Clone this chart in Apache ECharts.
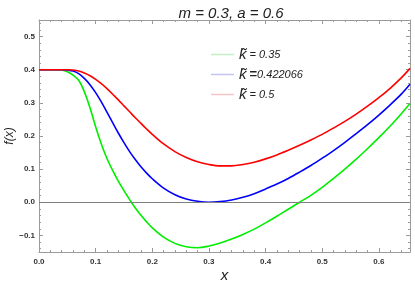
<!DOCTYPE html>
<html><head><meta charset="utf-8">
<script src="https://cdn.jsdelivr.net/npm/echarts@6/dist/echarts.min.js"></script>
<style>html,body{margin:0;padding:0;background:#fff}#c{width:415px;height:284px}</style>
</head><body><div id="c"></div>
<script>
var xs =    [0.00,0.01,0.02,0.03,0.04,0.05,0.06,0.07,0.08,0.09,0.10,0.11,0.12,0.13,0.14,0.15,0.16,0.17,0.18,0.19,0.20,0.22,0.24,0.26,0.28,0.30,0.32,0.34,0.36,0.38,0.40,0.42,0.44,0.46,0.48,0.50,0.52,0.54,0.56,0.58,0.60,0.62,0.64,0.655];
var green = [0.400,0.400,0.400,0.400,0.399,0.394,0.384,0.368,0.334,0.285,0.228,0.176,0.132,0.096,0.064,0.035,0.008,-0.017,-0.039,-0.059,-0.077,-0.105,-0.124,-0.134,-0.137,-0.132,-0.123,-0.111,-0.097,-0.081,-0.062,-0.042,-0.021,0.000,0.021,0.045,0.072,0.100,0.130,0.162,0.195,0.230,0.268,0.298];
var blue =  [0.400,0.400,0.400,0.400,0.400,0.399,0.396,0.388,0.374,0.355,0.331,0.303,0.272,0.240,0.209,0.180,0.153,0.129,0.107,0.088,0.071,0.043,0.023,0.010,0.003,0.000,0.002,0.007,0.015,0.026,0.040,0.055,0.072,0.091,0.111,0.133,0.156,0.181,0.207,0.234,0.263,0.294,0.327,0.356];
var red =   [0.400,0.400,0.400,0.400,0.400,0.400,0.399,0.396,0.390,0.382,0.371,0.358,0.343,0.326,0.309,0.291,0.273,0.255,0.238,0.221,0.205,0.176,0.153,0.135,0.122,0.114,0.110,0.110,0.114,0.121,0.131,0.143,0.157,0.172,0.188,0.205,0.224,0.244,0.266,0.290,0.316,0.344,0.376,0.404];
var seriesNames = ['0.35','0.422066','0.5'];
var xTicks = [0.0,0.1,0.2,0.3,0.4,0.5,0.6];
var yTicks = [-0.1,0.0,0.1,0.2,0.3,0.4,0.5];
var xMinor = [], yMinor = [];
for (var i = 1; i <= 32; i++) xMinor.push(Math.round(i*2)/100);
for (var j = -7; j <= 27; j++) yMinor.push(Math.round(j*2)/100);

var frame = '#9a9a9a';
var XMIN = 0, XMAX = 0.655, YMIN = -0.15, YMAX = 0.55;
function fmt(v){ return (v < 0 ? '\u2212' : '') + Math.abs(v).toFixed(1); }
function xAx(pos, major, showLabel, extra){
  var a = {type:'value', position:pos, min:XMIN, max:XMAX, splitLine:{show:false},
    axisLine:{show:major, onZero:false, lineStyle:{color:frame, width:1}},
    axisTick:{show:true, inside:true, length: major?4:2, customValues: major?xTicks:xMinor, lineStyle:{color:frame}},
    axisLabel:{show:showLabel, customValues:xTicks, formatter:fmt, fontSize:8, fontWeight:'bold', color:'#333', margin:6, fontFamily:'Liberation Sans'}};
  for (var k in extra) a[k] = extra[k];
  return a;
}
function yAx(pos, major, showLabel, extra){
  var a = {type:'value', position:pos, min:YMIN, max:YMAX, splitLine:{show:false},
    axisLine:{show:major, onZero:false, lineStyle:{color:frame, width:1}},
    axisTick:{show:true, inside:true, length: major?4:2, customValues: major?yTicks:yMinor, lineStyle:{color:frame}},
    axisLabel:{show:showLabel, customValues:yTicks, formatter:fmt, fontSize:8, fontWeight:'bold', color:'#333', margin:4, fontFamily:'Liberation Sans'}};
  for (var k in extra) a[k] = extra[k];
  return a;
}
var legendColors = ['#c4f0c4','#c4c4f4','#f6c4c4'];
var lineColors = ['#00ee00','#0000ff','#ff0000'];
var dataSets = [green, blue, red];
var series = dataSets.map(function(arr, s){
  var o = {type:'line', name:seriesNames[s], xAxisIndex:0, yAxisIndex:0, showSymbol:false, symbol:'none',
    smooth:0.35, lineStyle:{color:lineColors[s], width:1.6}, itemStyle:{color:legendColors[s]},
    data: xs.map(function(x,i){ return [x, arr[i]]; })};
  if (s === 0) o.markLine = {silent:true, symbol:'none', label:{show:false}, lineStyle:{color:'#808080', type:'solid', width:1.2}, data:[{yAxis:0}]};
  return o;
});
var chart = echarts.init(document.getElementById('c'), null, {renderer:'canvas'});
chart.setOption({
  animation:false,
  backgroundColor:'#fff',
  title:{text:'m = 0.3, a = 0.6', left:226, top:1, textAlign:'center',
    textStyle:{fontSize:15, fontStyle:'italic', fontWeight:'normal', color:'#222', fontFamily:'Liberation Sans'}},
  grid:{left:39, right:5, top:20, bottom:32, containLabel:false, outerBoundsMode:'none'},
  legend:{orient:'vertical', left:206, top:42, itemGap:5, itemWidth:23, itemHeight:1.5, icon:'rect',
    data: seriesNames.map(function(n,s){ return {name:n, itemStyle:{color:legendColors[s]}}; }),
    formatter:function(n){ return n === '0.422066' ? '{k|k\u0303}{eb|=}{eq|0.422066}' : '{k|k\u0303}{eq|= ' + n + '}'; },
    textStyle:{fontFamily:'Liberation Sans', color:'#222', rich:{
      k:{fontSize:15, fontStyle:'italic', lineHeight:17, padding:[0,3,0,0], fontFamily:'Liberation Sans'},
      eb:{fontSize:13, fontWeight:'bold', fontFamily:'Liberation Sans'},
      eq:{fontSize:11, fontStyle:'italic', fontFamily:'Liberation Sans'}}}},
  xAxis:[
    xAx('bottom', true, true, {name:'x', nameLocation:'middle', nameGap:10, nameMoveOverlap:false, nameTextStyle:{fontSize:15, fontStyle:'italic', color:'#222', fontFamily:'Liberation Sans', verticalAlign:'top', padding:[6,0,0,0]}}),
    xAx('bottom', false, false, {}),
    xAx('top', true, false, {}),
    xAx('top', false, false, {})
  ],
  yAxis:[
    yAx('left', true, true, {name:'f(x)', nameLocation:'middle', nameGap:29, nameMoveOverlap:false, nameRotate:90, nameTextStyle:{fontSize:12, fontStyle:'italic', color:'#222', fontFamily:'Liberation Sans', verticalAlign:'middle', align:'center'}}),
    yAx('left', false, false, {}),
    yAx('right', true, false, {}),
    yAx('right', false, false, {})
  ],
  series: series
});
</script></body></html>
